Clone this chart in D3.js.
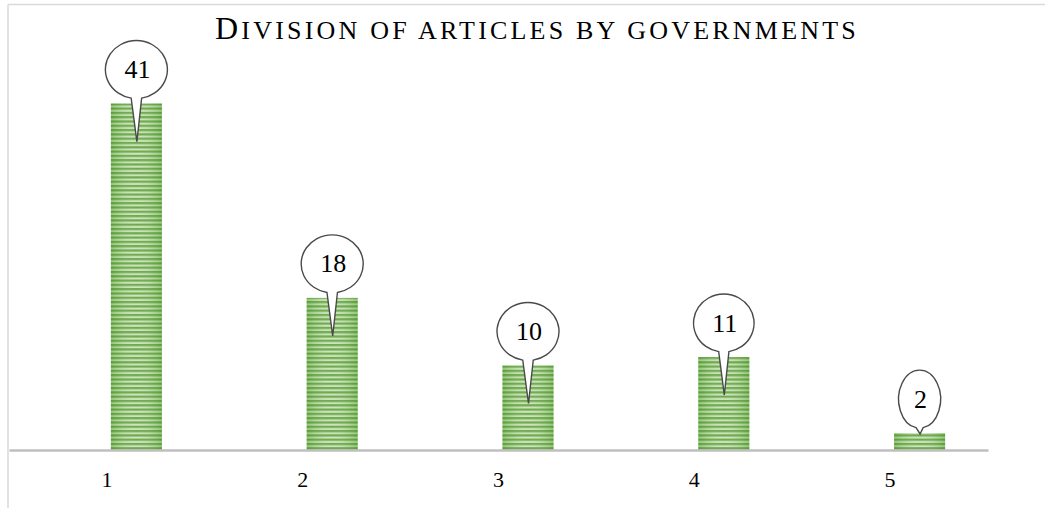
<!DOCTYPE html>
<html lang="en">
<head>
  <meta charset="utf-8">
  <title>Division of articles by governments</title>
  <style>
    body {
      margin: 0;
      background: #fff;
    }
    text {
      font-family: "Liberation Serif", "Times New Roman", serif;
      fill: #000;
    }
  </style>
</head>
<body>
  <svg width="1045" height="508"></svg>
  <script src="https://cdnjs.cloudflare.com/ajax/libs/d3/7.8.5/d3.min.js"></script>
  <script>

  // data
  var categories = ["1", "2", "3", "4", "5"];
  var counts = [41, 18, 10, 11, 2];

  var svg = d3.select("svg"),
      width = +svg.attr("width"),
      height = +svg.attr("height");

  var left = 9, right = 988, baseline = 450;

  var x = d3.scaleBand()
      .domain(categories)
      .range([left, right]);

  var y = d3.scaleLinear()
      .domain([0, 45])
      .range([baseline, baseline - 45 * 8.45]);

  var barWidth = 51, barShift = 4;

  // frame lines
  svg.append("line")
      .attr("x1", 8).attr("y1", 4.5).attr("x2", width).attr("y2", 4.5)
      .attr("stroke", "#d9d9d9").attr("stroke-width", 1.5);
  svg.append("line")
      .attr("x1", 8).attr("y1", 4.5).attr("x2", 8).attr("y2", height)
      .attr("stroke", "#d9d9d9").attr("stroke-width", 1.5);

  // striped green fill
  var defs = svg.append("defs");
  var pat = defs.append("pattern")
      .attr("id", "stripes")
      .attr("patternUnits", "userSpaceOnUse")
      .attr("width", 10)
      .attr("height", 4.3);
  pat.append("rect").attr("width", 10).attr("height", 4.3).attr("fill", "#c6e2b3");
  pat.append("rect").attr("width", 10).attr("height", 2.2).attr("fill", "#5f9f3b");

  var grad = defs.append("linearGradient")
      .attr("id", "shade")
      .attr("x1", "0").attr("x2", "1").attr("y1", "0").attr("y2", "0");
  grad.append("stop").attr("offset", "0%").attr("stop-color", "#4f9a2f").attr("stop-opacity", 0.4);
  grad.append("stop").attr("offset", "50%").attr("stop-color", "#ffffff").attr("stop-opacity", 0.1);
  grad.append("stop").attr("offset", "100%").attr("stop-color", "#4f9a2f").attr("stop-opacity", 0.4);

  var bars = svg.append("g");
  var barX = function(d, i) { return x(categories[i]) + x.bandwidth() / 2 + barShift; };

  bars.selectAll("rect.bar")
    .data(counts)
    .enter().append("rect")
      .attr("class", "bar")
      .attr("x", barX)
      .attr("y", function(d) { return y(d); })
      .attr("width", barWidth)
      .attr("height", function(d) { return y(0) - y(d); })
      .attr("fill", "url(#stripes)");

  bars.selectAll("rect.shade")
    .data(counts)
    .enter().append("rect")
      .attr("class", "shade")
      .attr("x", barX)
      .attr("y", function(d) { return y(d); })
      .attr("width", barWidth)
      .attr("height", function(d) { return y(0) - y(d); })
      .attr("fill", "url(#shade)");

  // axis line + tick labels
  var xAxis = svg.append("g")
      .attr("transform", "translate(0," + baseline + ")")
      .call(d3.axisBottom(x).tickSize(0).tickPadding(0));
  xAxis.select(".domain")
      .attr("stroke", "#bfbfbf")
      .attr("stroke-width", 2.5);
  xAxis.selectAll(".tick text")
      .attr("y", 37)
      .attr("dy", null)
      .style("font-family", "'Liberation Serif', serif")
      .style("font-size", "22px")
      .attr("fill", "#000");

  // callouts
  var callouts = svg.append("g");
  counts.forEach(function(d, i) {
    var cx = barX(d, i) + barWidth / 2;
    var top = y(d);
    var h = y(0) - top;
    var tipY = top + Math.min(38, h - 16);
    var cy = top - 34;

    var g = callouts.append("g");
    var label = g.append("text")
        .attr("x", cx + 1)
        .attr("y", cy + 8.5)
        .attr("text-anchor", "middle")
        .style("font-size", "26px")
        .text(d);
    var tw = label.node().getComputedTextLength();
    var rx = tw * 0.77 + 11, ry = 29;
    var phi = 0.17;
    var lx = cx - rx * Math.sin(phi), rxp = cx + rx * Math.sin(phi);
    var by = cy + ry * Math.cos(phi);
    g.insert("path", "text")
        .attr("d", "M" + lx + "," + by +
                   " A" + rx + "," + ry + " 0 1 1 " + rxp + "," + by +
                   " L" + (cx + 0.5) + "," + tipY + " Z")
        .attr("fill", "#fff")
        .attr("stroke", "#4a4a4a")
        .attr("stroke-width", 1.4);
  });

  // title in small caps
  var title = svg.append("text")
      .attr("x", 537)
      .attr("y", 39)
      .attr("text-anchor", "middle")
      .style("letter-spacing", "3.2px");
  title.append("tspan").style("font-size", "32px").text("D");
  title.append("tspan").style("font-size", "26px").text("IVISION OF ARTICLES BY GOVERNMENTS");

  </script>
</body>
</html>
